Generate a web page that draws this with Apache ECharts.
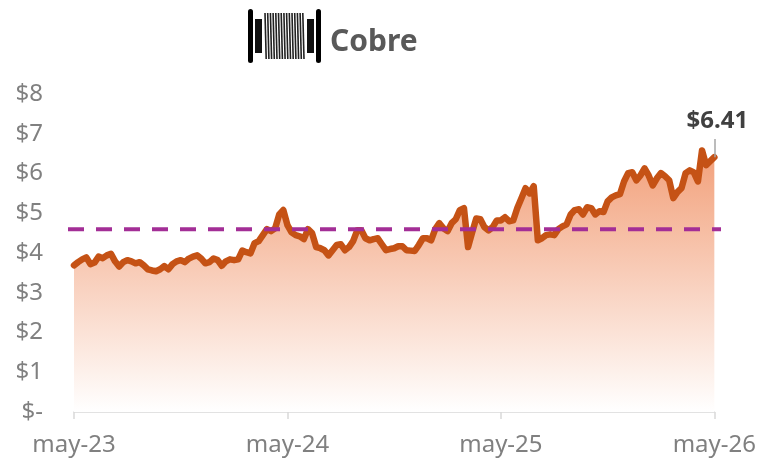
<!DOCTYPE html>
<html><head><meta charset="utf-8">
<script src="https://cdn.jsdelivr.net/npm/echarts@6/dist/echarts.min.js"></script>
<style>html,body{margin:0;padding:0;background:#fff}#c{width:759px;height:458px}</style>
</head><body><div id="c"></div>
<script>
const chartTitle = 'Cobre';
const tickLabels = ['may-23','may-24','may-25','may-26'];
const weeksPerTick = 52;
const reference = 4.6;
const lastLabel = '$6.41';
const leaderTop = 6.87;
const prices = [
3.69,3.77,3.84,3.89,3.72,3.76,3.91,3.87,3.94,3.98,3.79,3.66,3.77,3.82,3.79,3.74,3.77,3.69,3.59,3.56,
3.54,3.59,3.67,3.59,3.72,3.79,3.82,3.77,3.86,3.91,3.94,3.86,3.74,3.77,3.86,3.82,3.68,3.79,3.84,3.82,
3.84,4.06,4.02,3.99,4.25,4.30,4.45,4.60,4.55,4.62,4.97,5.08,4.70,4.52,4.45,4.42,4.35,4.60,4.50,4.15,
4.12,4.07,3.94,4.07,4.20,4.22,4.07,4.15,4.30,4.57,4.57,4.37,4.32,4.35,4.37,4.22,4.07,4.10,4.12,4.17,
4.17,4.07,4.06,4.05,4.20,4.37,4.37,4.32,4.60,4.75,4.62,4.55,4.75,4.85,5.08,5.13,4.15,4.52,4.87,4.85,
4.65,4.57,4.65,4.82,4.82,4.90,4.80,4.82,5.13,5.38,5.63,5.50,5.68,4.32,4.37,4.45,4.47,4.45,4.60,4.67,
4.72,4.97,5.08,5.10,4.97,5.15,5.13,4.97,5.05,5.03,5.30,5.40,5.45,5.48,5.80,6.01,6.03,5.83,5.95,6.13,
5.95,5.70,5.88,6.01,5.93,5.83,5.38,5.53,5.63,6.01,6.08,6.03,5.80,6.58,6.21,6.31,6.41
];
const categories = prices.map((_, i) => i % weeksPerTick === 0 ? tickLabels[i / weeksPerTick] : 'w' + i);
const lastCategory = categories[categories.length - 1];
const font = '"Noto Sans"';

const spoolStripes = [];
for (let k = 0; k < 15; k++) {
  spoolStripes.push({type:'line', shape:{x1:265+k*2.7, y1:13, x2:266.2+k*2.7, y2:59},
    style:{stroke:'#222', lineWidth:1.6}});
}
const chart = echarts.init(document.getElementById('c'), null, {renderer:'canvas'});
chart.setOption({
  animation:false,
  backgroundColor:'#fff',
  title:{text:chartTitle, left:325, top:22, textStyle:{fontFamily:font, fontSize:30, fontWeight:'bold', color:'#595959'}},
  grid:[
    {left:74, right:43, top:94, bottom:46},
    {left:68, right:38, top:94, bottom:46}
  ],
  xAxis:[
    {type:'category', gridIndex:0, data:categories, boundaryGap:false,
     axisLine:{lineStyle:{color:'#D9D9D9', width:1.5}},
     axisTick:{show:true, interval:weeksPerTick-1, length:7, lineStyle:{color:'#D9D9D9', width:1.5}},
     axisLabel:{interval:weeksPerTick-1, margin:21, color:'#808080', fontFamily:font, fontSize:24, hideOverlap:false, showMaxLabel:true},
     splitLine:{show:false}},
    {type:'category', gridIndex:1, data:['a','b'], boundaryGap:false, show:false}
  ],
  yAxis:[
    {type:'value', gridIndex:0, min:0, max:8, interval:1,
     axisLine:{show:false}, axisTick:{show:false}, splitLine:{show:false},
     axisLabel:{margin:31, color:'#808080', fontFamily:font, fontSize:24, padding:[2,0,0,0],
       formatter:v => v === 0 ? '$-' : '$' + v}},
    {type:'value', gridIndex:1, min:0, max:8, show:false}
  ],
  series:[
    {type:'line', xAxisIndex:0, yAxisIndex:0, data:prices, symbol:'none', smooth:false, z:2,
     lineStyle:{color:'#C55215', width:6.5, join:'round', cap:'round'},
     areaStyle:{opacity:1, color:new echarts.graphic.LinearGradient(0,0,0,1,[
       {offset:0,color:'#F2A07A'},{offset:1,color:'#FFFFFF'}])},
     markLine:{silent:true, symbol:'none', animation:false,
       lineStyle:{color:'#A6A6A6', width:1.5, type:'solid'},
       label:{show:true, position:'end', formatter:lastLabel, distance:5, color:'#404040', offset:[3,-1],
         fontFamily:font, fontSize:24, fontWeight:'bold'},
       data:[[{xAxis:lastCategory, yAxis:prices[prices.length-1]},{xAxis:lastCategory, yAxis:leaderTop}]]}},
    {type:'line', xAxisIndex:1, yAxisIndex:1, data:[reference,reference], symbol:'none', z:5,
     lineStyle:{color:'#A32E96', width:4, type:[16,12], cap:'butt'}}
  ],
  graphic:[
    {type:'group', z:10, children:[
      {type:'rect', shape:{x:248,y:9,width:5,height:54,r:2.5}, style:{fill:'#000'}},
      {type:'rect', shape:{x:316,y:9,width:5,height:54,r:2.5}, style:{fill:'#000'}},
      {type:'rect', shape:{x:255,y:19,width:7,height:34}, style:{fill:'#111'}},
      {type:'rect', shape:{x:307,y:19,width:7,height:34}, style:{fill:'#111'}}
    ].concat(spoolStripes)}
  ]
});
</script></body></html>
